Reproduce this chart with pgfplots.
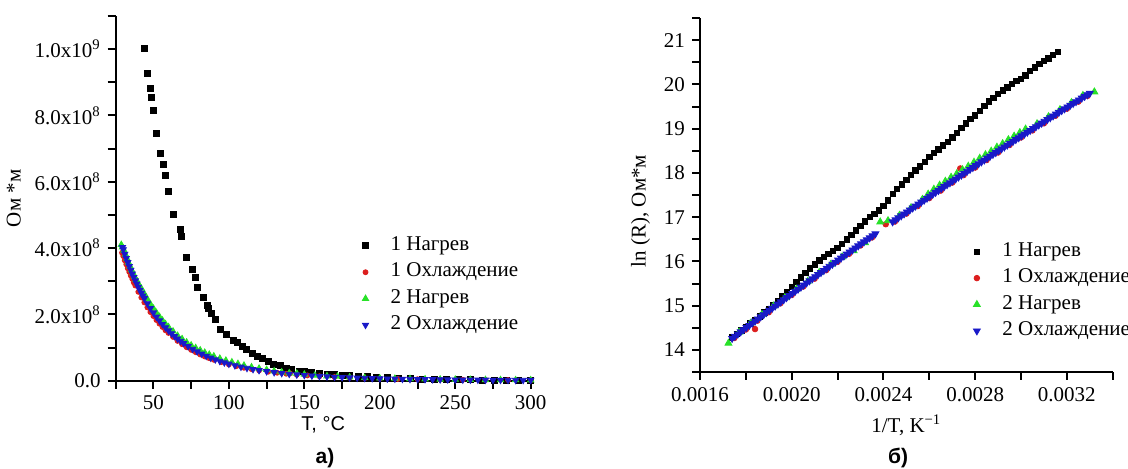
\documentclass[border=0pt]{standalone}
\usepackage{fontspec}
\setmainfont{Liberation Serif}
\newfontfamily\arialfont{Liberation Sans}
\usepackage{pgfplots}
\pgfplotsset{compat=1.18}

\definecolor{cred}{RGB}{220,30,30}
\definecolor{cgreen}{RGB}{40,225,40}
\definecolor{cblue}{RGB}{25,25,200}

\pgfplotsset{
  panel/.style={
    scale only axis,
    axis lines*=left,
    axis line style={line width=1pt},
    tick align=outside,
    major tick length=4pt,
    minor tick length=4pt,
    every tick/.style={line width=1pt, black},
    tick label style={font=\fontsize{10.5}{12}\selectfont},
    label style={font=\fontsize{10.5}{12}\selectfont},
    legend cell align=left,
    legend style={draw=none, fill=none, anchor=north west,
      font=\fontsize{10.5}{12}\selectfont, inner xsep=0pt, inner ysep=0pt,
      column sep=10pt, row sep=1.5pt,
      nodes={inner sep=1pt, text height=7.2pt, text depth=2.5pt}},
    clip=false,
  },
  s1/.style={only marks, mark=square*, mark size=1.5pt, black},
  s2/.style={only marks, mark=*, mark size=1.25pt, cred},
  s3/.style={only marks, mark=triangle*, mark size=1.8pt, cgreen},
  s4/.style={only marks, mark=triangle*, mark size=1.8pt, cblue, mark options={rotate=180}},
}

\begin{document}
\begin{tikzpicture}

% ---------- а) R vs T (values in units of 1e8 Ohm*m)
\begin{axis}[panel,
  at={(57.85pt,-190.35pt)}, anchor=south west,
  width=207.5pt, height=182.35pt,
  xmin=25, xmax=300, ymin=0, ymax=11,
  xtick={50,100,150,200,250,300},
  xticklabels={50,100,150,200,250,300},
  minor xtick={25,75,125,175,225,275},
  ytick={0,2,4,6,8,10},
  yticklabels={0.0,2.0x10\textsuperscript{8},4.0x10\textsuperscript{8},6.0x10\textsuperscript{8},8.0x10\textsuperscript{8},1.0x10\textsuperscript{9}},
  minor ytick={1,3,5,7,9,11},
  xlabel={T, °C},
  xlabel style={font=\arialfont\fontsize{10}{12}\selectfont, yshift=3.5pt},
  ylabel={Ом *м},
  legend style={at={(0.5935,0.403)}},
]
\addplot[s1] table {
43.8 10.02
45.7 9.27
47.7 8.82
48.9 8.53
49.7 8.16
51.7 7.45
54.8 6.86
56.8 6.53
57.9 6.19
59.9 5.72
63.4 5.03
67.6 4.56
68.7 4.35
71.8 3.72
75.6 3.35
77.8 3.13
78.9 2.82
82.9 2.51
85.5 2.28
86.6 2.18
88.2 2.04
91.0 1.84
94.6 1.54
98.1 1.40
102.7 1.22
105.4 1.15
108.9 1.04
111.8 0.93
115.3 0.82
118.8 0.73
122.1 0.67
126.1 0.58
129.4 0.50
133.9 0.45
137.9 0.37
141.6 0.33
146.7 0.29
150 0.27
155 0.24
160 0.215
165 0.195
170 0.175
175 0.16
180 0.145
186 0.13
192 0.115
198 0.10
205 0.087
212 0.075
220 0.063
228 0.053
236 0.045
244 0.038
252 0.032
260 0.028
268 0.024
276 0.021
284 0.018
292 0.016
300 0.015
};
\addlegendentry{1 Нагрев}
\addplot[s2] table {
29.2 3.86
30 3.76
31 3.63
32 3.51
33 3.39
34 3.28
35 3.17
36 3.07
37 2.96
38 2.87
40 2.68
42 2.51
44 2.36
46 2.21
48 2.07
50 1.95
52 1.83
54 1.72
56 1.62
58 1.52
60 1.44
63 1.32
66 1.20
69 1.10
72 1.01
75 0.93
78 0.86
81 0.79
84 0.73
87 0.68
90 0.63
95 0.56
100 0.49
105 0.44
110 0.39
115 0.35
120 0.31
126 0.27
132 0.24
138 0.21
140.5 0.22
145 0.18
152 0.16
160 0.135
170 0.11
180 0.092
190 0.078
200 0.065
212 0.054
225 0.044
240 0.035
255 0.028
270 0.023
285 0.019
300 0.016
};
\addlegendentry{1 Охлаждение}
\addplot[s3] table {
28.7 4.10
29.5 4.03
30.5 3.93
31.5 3.80
32.5 3.68
33.5 3.56
34.5 3.45
35.5 3.34
36.5 3.24
37.5 3.14
38.5 3.05
40 2.93
42 2.78
44 2.62
46 2.46
48 2.31
50 2.18
52 2.05
54 1.93
56 1.82
58 1.71
60 1.62
63 1.49
66 1.36
69 1.26
72 1.16
75 1.07
78 0.99
81 0.92
84 0.85
87 0.79
90 0.74
94 0.67
98 0.61
102 0.56
106 0.51
110 0.46
115 0.41
120 0.37
125 0.33
130 0.29
135 0.26
140 0.23
145 0.22
150 0.19
157 0.16
165 0.14
172 0.13
180 0.105
190 0.09
200 0.075
210 0.065
220 0.056
230 0.048
240 0.041
250 0.036
260 0.031
270 0.027
280 0.024
290 0.021
300 0.019
};
\addlegendentry{2 Нагрев}
\addplot[s4] table {
29.5 4.025
30 3.956
31 3.822
32 3.694
33 3.570
34 3.451
35 3.337
36 3.227
37 3.120
38 3.019
39 2.920
40 2.826
41 2.735
42 2.647
43 2.563
44 2.481
46 2.327
48 2.184
50 2.051
52 1.927
54 1.812
56 1.704
58 1.604
60 1.511
62 1.424
64 1.342
66 1.266
68 1.195
70 1.128
73 1.036
76 0.953
79 0.878
82 0.809
85 0.746
88 0.689
91 0.637
94 0.590
97 0.547
100 0.507
104 0.459
108 0.417
112 0.379
116 0.345
120 0.314
125 0.281
130 0.251
135 0.225
140 0.202
145 0.182
150 0.165
155 0.149
160 0.135
165 0.123
170 0.112
175 0.102
180 0.093
185 0.085
190 0.078
195 0.071
200 0.066
205 0.060
210 0.056
215 0.051
220 0.047
225 0.044
230 0.041
235 0.038
240 0.035
245 0.033
250 0.030
255 0.028
260 0.026
265 0.025
270 0.023
275 0.022
280 0.020
285 0.019
290 0.018
295 0.017
300 0.016
};
\addlegendentry{2 Охлаждение}
\end{axis}

% ---------- б) ln(R) vs 1/T
\begin{axis}[panel,
  at={(350pt,-186pt)}, anchor=south west,
  width=206.35pt, height=177pt,
  xmin=0.0016, xmax=0.0034, ymin=13.5, ymax=21.5,
  scaled x ticks=false,
  xtick={0.0016,0.0020,0.0024,0.0028,0.0032},
  xticklabels={0.0016,0.0020,0.0024,0.0028,0.0032},
  minor xtick={0.0018,0.0022,0.0026,0.0030,0.0034},
  ytick={14,15,16,17,18,19,20,21},
  yticklabels={14,15,16,17,18,19,20,21},
  minor ytick={13.5,14.5,15.5,16.5,17.5,18.5,19.5,20.5,21.5},
  xlabel={1/T, K\textsuperscript{−1}},
  ylabel={ln (R), Ом*м},
  ylabel style={at={(ticklabel cs:0.455)}},
  legend style={at={(0.6615,0.374)}},
]
\addplot[s1, mark size=1.35pt] table {
0.00174 14.28
0.00176 14.36
0.00178 14.44
0.00180 14.52
0.00182 14.60
0.00184 14.68
0.00186 14.76
0.00188 14.85
0.00190 14.93
0.00192 15.02
0.00194 15.11
0.00196 15.21
0.00198 15.31
0.00200 15.42
0.00202 15.53
0.00204 15.64
0.00206 15.74
0.00208 15.84
0.00210 15.93
0.00212 16.02
0.00214 16.10
0.00216 16.17
0.00218 16.24
0.00220 16.31
0.00222 16.40
0.00224 16.50
0.00226 16.60
0.00228 16.70
0.00230 16.80
0.00232 16.90
0.00234 17.00
0.00236 17.07
0.00238 17.15
0.00240 17.26
0.00242 17.38
0.00244 17.52
0.00246 17.64
0.00248 17.74
0.00250 17.84
0.00252 17.95
0.00254 18.06
0.00256 18.15
0.00258 18.25
0.00260 18.36
0.00262 18.45
0.00264 18.53
0.00266 18.62
0.00268 18.70
0.00270 18.80
0.00272 18.91
0.00274 19.02
0.00276 19.12
0.00278 19.22
0.00280 19.30
0.00282 19.40
0.00284 19.52
0.00286 19.62
0.00288 19.70
0.00290 19.78
0.00292 19.86
0.00294 19.93
0.00296 20.01
0.00298 20.08
0.00300 20.13
0.00302 20.20
0.00304 20.30
0.00306 20.38
0.00308 20.46
0.00310 20.53
0.00312 20.59
0.00314 20.66
0.00316 20.73
};
\addlegendentry{1 Нагрев}
\addplot[s2, mark size=1.4pt] table {
0.00175 14.27
0.00180 14.46
0.00184 14.47
0.00185 14.66
0.00190 14.85
0.00195 15.05
0.00200 15.24
0.00205 15.43
0.00210 15.61
0.00215 15.80
0.00220 15.99
0.00225 16.17
0.00230 16.36
0.00235 16.54
0.00241 16.84
0.00245 16.90
0.00250 17.08
0.00255 17.25
0.00260 17.43
0.00265 17.60
0.00270 17.78
0.002735 18.10
0.00275 17.95
0.00280 18.12
0.00285 18.29
0.00290 18.46
0.00295 18.63
0.00300 18.80
0.00305 18.96
0.00310 19.12
0.00315 19.29
0.00320 19.45
0.00325 19.61
0.00329 19.74
};
\addlegendentry{1 Охлаждение}
\addplot[s3, mark size=2pt] table {
0.001724 14.15
0.00177 14.40
0.00182 14.60
0.00187 14.80
0.00192 14.99
0.00197 15.18
0.00202 15.37
0.00207 15.55
0.00212 15.75
0.00217 15.93
0.00222 16.10
0.00227 16.24
0.00232 16.42
0.002386 16.89
0.00242 16.92
0.00247 17.04
0.00252 17.21
0.00257 17.40
0.002595 17.52
0.00262 17.63
0.002645 17.72
0.00267 17.81
0.002695 17.90
0.00272 17.98
0.002745 18.07
0.00277 18.15
0.002795 18.24
0.00282 18.33
0.002845 18.41
0.00287 18.49
0.002895 18.58
0.00292 18.66
0.002945 18.75
0.00297 18.83
0.002995 18.91
0.00302 18.99
0.00307 19.11
0.00312 19.27
0.00317 19.43
0.00322 19.59
0.00327 19.75
0.00332 19.83
};
\addlegendentry{2 Нагрев}
\addplot[s4, mark size=2pt] table {
0.001740 14.259
0.0017525 14.308
0.001765 14.358
0.0017775 14.407
0.001790 14.456
0.0018025 14.505
0.001815 14.553
0.0018275 14.602
0.001840 14.651
0.0018525 14.700
0.001865 14.748
0.0018775 14.796
0.001890 14.844
0.0019025 14.893
0.001915 14.941
0.0019275 14.989
0.001940 15.037
0.0019525 15.085
0.001965 15.133
0.0019775 15.181
0.001990 15.228
0.0020025 15.276
0.002015 15.323
0.0020275 15.371
0.002040 15.418
0.0020525 15.466
0.002065 15.513
0.0020775 15.560
0.002090 15.607
0.0021025 15.654
0.002115 15.701
0.0021275 15.748
0.002140 15.795
0.0021525 15.842
0.002165 15.888
0.0021775 15.935
0.002190 15.981
0.0022025 16.028
0.002215 16.074
0.0022275 16.120
0.002240 16.166
0.0022525 16.212
0.002265 16.258
0.0022775 16.304
0.002290 16.350
0.0023025 16.396
0.002315 16.441
0.0023275 16.487
0.002340 16.533
0.0023525 16.578
0.002365 16.623
0.002440 16.894
0.0024525 16.939
0.002465 16.984
0.0024775 17.029
0.002490 17.073
0.0025025 17.118
0.002515 17.162
0.0025275 17.207
0.002540 17.251
0.0025525 17.295
0.002565 17.339
0.0025775 17.383
0.002590 17.427
0.0026025 17.471
0.002615 17.515
0.0026275 17.559
0.002640 17.602
0.0026525 17.646
0.002665 17.690
0.0026775 17.733
0.002690 17.776
0.0027025 17.820
0.002715 17.863
0.0027275 17.906
0.002740 17.949
0.0027525 17.992
0.002765 18.035
0.0027775 18.078
0.002790 18.121
0.0028025 18.164
0.002815 18.206
0.0028275 18.249
0.002840 18.291
0.0028525 18.334
0.002865 18.376
0.0028775 18.418
0.002890 18.460
0.0029025 18.502
0.002915 18.544
0.0029275 18.586
0.002940 18.628
0.0029525 18.670
0.002965 18.711
0.0029775 18.753
0.002990 18.795
0.0030025 18.836
0.003015 18.877
0.0030275 18.919
0.003040 18.960
0.0030525 19.001
0.003065 19.042
0.0030775 19.083
0.003090 19.124
0.0031025 19.165
0.003115 19.206
0.0031275 19.247
0.003140 19.287
0.0031525 19.328
0.003165 19.368
0.0031775 19.409
0.003190 19.449
0.0032025 19.489
0.003215 19.529
0.0032275 19.569
0.003240 19.609
0.0032525 19.649
0.003265 19.689
0.0032775 19.729
0.003290 19.768
0.003300 19.800
};
\addlegendentry{2 Охлаждение}
\end{axis}

\node[font=\arialfont\bfseries\fontsize{10.5}{12}\selectfont] at (162.5pt,-229pt) {а)};
\node[font=\arialfont\bfseries\fontsize{10.5}{12}\selectfont] at (449pt,-229pt) {б)};

\pgfresetboundingbox
\path[use as bounding box] (0,0) rectangle (564pt,-234.5pt);
\end{tikzpicture}
\end{document}
